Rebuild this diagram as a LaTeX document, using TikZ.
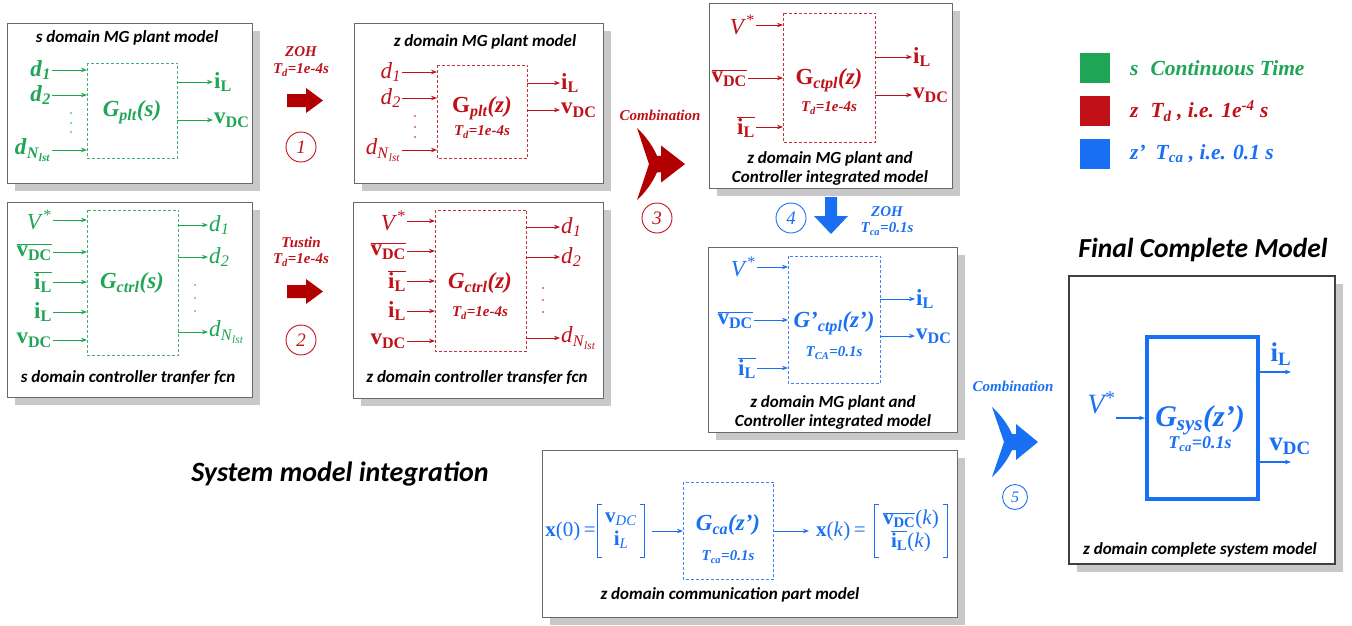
\documentclass[tikz,border=0pt]{standalone}
\usepackage{fontspec}
\setmainfont{Liberation Serif}
\newfontfamily\ttl{Carlito}
\usetikzlibrary{arrows.meta,shadows}
\definecolor{cg}{RGB}{30,165,85}
\definecolor{cr}{RGB}{192,16,24}
\definecolor{cb}{RGB}{25,112,245}
\definecolor{ca}{RGB}{178,0,0}
\definecolor{sh}{RGB}{200,200,200}
\definecolor{pb}{RGB}{105,105,105}
\newcommand{\iLb}{\textbf{i}\textsubscript{\textbf{L}}}
\newcommand{\vDCb}{\textbf{v}\textsubscript{\textbf{DC}}}
\newcommand{\vDCbar}{$\overline{\mbox{\vDCb}}$}
\newcommand{\iLbar}{$\overline{\mbox{\iLb}}$}
\newcommand{\Vst}{\textit{V}\textsuperscript{*}}
\newcommand{\dsub}[1]{\textit{d}\textsubscript{\textit{#1}}}
\newcommand{\dNl}{\textit{d}\textsubscript{\textit{N}\textsubscript{\textit{lst}}}}
\begin{document}
\begin{tikzpicture}[x=1pt,y=-1pt,
  panel/.style={draw=pb, line width=0.8pt, fill=white, drop shadow={shadow xshift=8pt,shadow yshift=-8pt,fill=sh,opacity=1}, inner sep=0pt, anchor=north west},
  dbox/.style={inner sep=0pt, anchor=north west},
  dline/.style={draw=#1!85!white, dash pattern=on 3pt off 2pt, line width=0.7pt},
  arr/.style={-{Stealth[length=6pt,width=4.5pt]}, line width=0.8pt},
  ptitle/.style={font=\ttl\bfseries\itshape\fontsize{17}{19}\selectfont, text=black, inner sep=0pt},
  bigtitle/.style={font=\ttl\bfseries\itshape\fontsize{28}{30}\selectfont, text=black, inner sep=0pt},
  lbl/.style={inner sep=1pt, font=\fontsize{23}{24}\selectfont},
  lblb/.style={inner sep=1pt, font=\bfseries\fontsize{23}{24}\selectfont},
  glbl/.style={font=\bfseries\fontsize{23}{24}\selectfont, inner sep=0pt},
  tlbl/.style={font=\bfseries\itshape\fontsize{15}{16}\selectfont, inner sep=0pt},
  num/.style={circle, draw, line width=0.9pt, minimum size=30pt, inner sep=0pt, font=\itshape\fontsize{19}{20}\selectfont},
  dotm/.style={circle, fill, inner sep=0pt, minimum size=1.8pt},
  leg/.style={anchor=west, inner sep=0pt, font=\bfseries\itshape\fontsize{21.5}{23}\selectfont},
  vec/.style={align=center, inner sep=0pt, minimum height=52pt, font=\fontsize{21}{23}\selectfont},
  brk/.style={line width=0.8pt}
]
\useasboundingbox (0,0) rectangle (1352,625);

% ---------- panels ----------
\node[panel, minimum width=245pt, minimum height=160pt] (p1) at (7,23) {};
\node[panel, minimum width=245pt, minimum height=195pt] (p4) at (7,202) {};
\node[panel, minimum width=249pt, minimum height=160pt] (p2) at (354,23) {};
\node[panel, minimum width=250pt, minimum height=196pt] (p5) at (353,202) {};
\node[panel, minimum width=243pt, minimum height=185pt] (p3) at (709,3) {};
\node[panel, minimum width=249pt, minimum height=185pt] (p6) at (708,247) {};
\node[panel, minimum width=415pt, minimum height=167pt] (p7) at (542,450) {};
\node[panel, draw=black!75, line width=2pt, minimum width=266pt, minimum height=288pt] (p8) at (1068,275) {};

% ---------- P1: s domain plant ----------
\begin{scope}[cg]
\node[ptitle] (t1) at (127,38) {s domain MG plant model};
\node[dbox, minimum width=90pt, minimum height=95pt] (g1) at (87,63) {};
\draw[dline=cg] (g1.north west) rectangle (g1.south east);
\node[glbl] (G1) at (132,112) {\itshape G\textsubscript{plt}(s)};
\node[lblb, anchor=east] (a11) at (52,70) {\dsub{1}};
\node[lblb, anchor=east] (a12) at (52,95) {\dsub{2}};
\node[lblb, anchor=east] (a13) at (52,150) {\dNl};
\foreach \s in {a11,a12,a13} \draw[arr] (\s.east) -- (\s.east -| g1.west);
\node[dotm] (d11) at (71,113) {};
\node[dotm] (d12) at (71,123) {};
\node[dotm] (d13) at (71,132) {};
\node[lblb, anchor=west] (b11) at (213,82) {\iLb};
\node[lblb, anchor=west] (b12) at (213,120) {\vDCb};
\foreach \s in {b11,b12} \draw[arr] (g1.east |- \s.west) -- (\s.west);
\end{scope}

% ---------- P4: s domain controller ----------
\begin{scope}[cg]
\node[ptitle] (t4) at (128,378) {s domain controller tranfer fcn};
\node[dbox, minimum width=91pt, minimum height=145pt] (g4) at (87,210) {};
\draw[dline=cg] (g4.north west) rectangle (g4.south east);
\node[glbl] (G4) at (132,283) {\itshape G\textsubscript{ctrl}(s)};
\node[lbl, anchor=east] (a41) at (53,220) {\Vst};
\node[lblb, anchor=east] (a42) at (53,252) {\vDCbar};
\node[lblb, anchor=east] (a43) at (53,282) {\iLbar};
\node[lblb, anchor=east] (a44) at (53,312) {\iLb};
\node[lblb, anchor=east] (a45) at (53,340) {\vDCb};
\foreach \s in {a41,a42,a43,a44,a45} \draw[arr] (\s.east) -- (\s.east -| g4.west);
\node[lbl, anchor=west] (b41) at (208,225) {\dsub{1}};
\node[lbl, anchor=west] (b42) at (208,257) {\dsub{2}};
\node[lbl, anchor=west] (b43) at (208,332) {\dNl};
\foreach \s in {b41,b42,b43} \draw[arr] (g4.east |- \s.west) -- (\s.west);
\node[dotm] (d41) at (195,285) {};
\node[dotm] (d42) at (195,298) {};
\node[dotm] (d43) at (195,311) {};
\end{scope}

% ---------- P2: z domain plant ----------
\begin{scope}[cr]
\node[ptitle] (t2) at (485,42) {z domain MG plant model};
\node[dbox, minimum width=90pt, minimum height=93pt] (g2) at (437,65) {};
\draw[dline=cr] (g2.north west) rectangle (g2.south east);
\node[glbl] (G2) at (482,108) {G\textsubscript{\itshape plt}\itshape(z)};
\node[tlbl] (T2) at (482,132) {T\textsubscript{d}=1e-4s};
\node[lbl, anchor=east] (a21) at (402,72) {\dsub{1}};
\node[lbl, anchor=east] (a22) at (402,98) {\dsub{2}};
\node[lbl, anchor=east] (a23) at (402,150) {\dNl};
\foreach \s in {a21,a22,a23} \draw[arr] (\s.east) -- (\s.east -| g2.west);
\node[dotm] (d21) at (415,116) {};
\node[dotm] (d22) at (415,127) {};
\node[dotm] (d23) at (415,137) {};
\node[lblb, anchor=west] (b21) at (560,83) {\iLb};
\node[lblb, anchor=west] (b22) at (560,110) {\vDCb};
\foreach \s in {b21,b22} \draw[arr] (g2.east |- \s.west) -- (\s.west);
\end{scope}

% ---------- P5: z domain controller ----------
\begin{scope}[cr]
\node[ptitle] (t5) at (477,378) {z domain controller transfer fcn};
\node[dbox, minimum width=91pt, minimum height=141pt] (g5) at (435,210) {};
\draw[dline=cr] (g5.north west) rectangle (g5.south east);
\node[glbl] (G5) at (480,283) {\itshape G\textsubscript{ctrl}(z)};
\node[tlbl] (T5) at (480,313) {T\textsubscript{d}=1e-4s};
\node[lbl, anchor=east] (a51) at (407,221) {\Vst};
\node[lblb, anchor=east] (a52) at (407,251) {\vDCbar};
\node[lblb, anchor=east] (a53) at (407,281) {\iLbar};
\node[lblb, anchor=east] (a54) at (407,311) {\iLb};
\node[lblb, anchor=east] (a55) at (407,341) {\vDCb};
\foreach \s in {a51,a52,a53,a54,a55} \draw[arr] (\s.east) -- (\s.east -| g5.west);
\node[lbl, anchor=west] (b51) at (560,227) {\dsub{1}};
\node[lbl, anchor=west] (b52) at (560,257) {\dsub{2}};
\node[lbl, anchor=west] (b53) at (560,338) {\dNl};
\foreach \s in {b51,b52,b53} \draw[arr] (g5.east |- \s.west) -- (\s.west);
\node[dotm] (d51) at (543,288) {};
\node[dotm] (d52) at (543,300) {};
\node[dotm] (d53) at (543,312) {};
\end{scope}

% ---------- transformation arrows 1, 2 ----------
\begin{scope}[cr]
\node[tlbl] (z1) at (301,52) {ZOH};
\node[tlbl] (z1t) at (301,70) {T\textsubscript{d}=1e-4s};
\fill[ca] (287,94) -- (306,94) -- (306,88) -- (323,100.5) -- (306,113) -- (306,107) -- (287,107) -- cycle;
\node[num] (n1) at (301,147) {1};
\node[tlbl] (z2) at (301,242) {Tustin};
\node[tlbl] (z2t) at (301,260) {T\textsubscript{d}=1e-4s};
\fill[ca] (287,285) -- (306,285) -- (306,279) -- (323,291.5) -- (306,304) -- (306,298) -- (287,298) -- cycle;
\node[num] (n2) at (301,340) {2};
\end{scope}

% ---------- combination 3 ----------
\begin{scope}[cr]
\node[tlbl] (c3) at (660,115) {Combination};
\node[num] (n3) at (657,218) {3};
\end{scope}
\begin{scope}[shift={(637,128)}, yscale=1.03]
\fill[ca] (0,0) .. controls (9,8) and (16,18) .. (20,27) -- (24,27) -- (24,17) -- (48,35) -- (24,53) -- (24,43) -- (20,43) .. controls (16,52) and (9,62) .. (0,70) -- (12,35) -- cycle;
\end{scope}

% ---------- P3: z domain integrated ----------
\begin{scope}[cr]
\node[ptitle, align=center] (t3) at (830,168) {z domain MG plant and\\Controller integrated model};
\node[dbox, minimum width=92pt, minimum height=129pt] (g3) at (783,13) {};
\draw[dline=cr] (g3.north west) rectangle (g3.south east);
\node[glbl] (G3) at (829,80) {G\textsubscript{\itshape ctpl}\itshape(z)};
\node[tlbl] (T3) at (829,108) {T\textsubscript{d}=1e-4s};
\node[lbl, anchor=east] (a31) at (756,25) {\Vst};
\node[lblb, anchor=east] (a32) at (748,78) {\vDCbar};
\node[lblb, anchor=east] (a33) at (756,127) {\iLbar};
\foreach \s in {a31,a32,a33} \draw[arr] (\s.east) -- (\s.east -| g3.west);
\node[lblb, anchor=west] (b31) at (912,57) {\iLb};
\node[lblb, anchor=west] (b32) at (912,95) {\vDCb};
\foreach \s in {b31,b32} \draw[arr] (g3.east |- \s.west) -- (\s.west);
\end{scope}

% ---------- arrow 4 ----------
\begin{scope}[cb]
\fill[cb] (825,197) -- (837,197) -- (837,216) -- (848,216) -- (831,234) -- (814,216) -- (825,216) -- cycle;
\node[num] (n4) at (791,218) {4};
\node[tlbl] (z4) at (887,212) {ZOH};
\node[tlbl] (z4t) at (887,229) {T\textsubscript{ca}=0.1s};
\end{scope}

% ---------- P6: z' integrated ----------
\begin{scope}[cb]
\node[ptitle, align=center] (t6) at (833,412) {z domain MG plant and\\Controller integrated model};
\node[dbox, minimum width=92pt, minimum height=127pt] (g6) at (788,256) {};
\draw[dline=cb] (g6.north west) rectangle (g6.south east);
\node[glbl] (G6) at (834,323) {\itshape G'\textsubscript{ctpl}(z')};
\node[tlbl] (T6) at (834,353) {T\textsubscript{CA}=0.1s};
\node[lbl, anchor=east] (a61) at (757,267) {\Vst};
\node[lblb, anchor=east] (a62) at (754,320) {\vDCbar};
\node[lblb, anchor=east] (a63) at (757,368) {\iLbar};
\foreach \s in {a61,a62,a63} \draw[arr] (\s.east) -- (\s.east -| g6.west);
\node[lblb, anchor=west] (b61) at (915,299) {\iLb};
\node[lblb, anchor=west] (b62) at (915,336) {\vDCb};
\foreach \s in {b61,b62} \draw[arr] (g6.east |- \s.west) -- (\s.west);
\end{scope}

% ---------- P7: communication ----------
\begin{scope}[cb]
\node[ptitle] (t7) at (730,595) {z domain communication part model};
\node[dbox, minimum width=90pt, minimum height=97pt] (g7) at (683,482) {};
\draw[dline=cb] (g7.north west) rectangle (g7.south east);
\node[glbl] (G7) at (728,525) {\itshape G\textsubscript{ca}(z')};
\node[tlbl] (T7) at (728,557) {T\textsubscript{ca}=0.1s};
% left vector
\node[anchor=east, inner sep=0pt, font=\fontsize{21}{23}\selectfont] (x0l) at (596,531) {\textbf{x}(0)\,=};
\node[vec, minimum width=46pt] (x0m) at (621,531) {\textbf{v}\textsubscript{\textit{DC}}\\\textbf{i}\textsubscript{\textit{L}}};
\draw[brk] ([xshift=4pt]x0m.north west) -- (x0m.north west) -- (x0m.south west) -- ([xshift=4pt]x0m.south west);
\draw[brk] ([xshift=-4pt]x0m.north east) -- (x0m.north east) -- (x0m.south east) -- ([xshift=-4pt]x0m.south east);
% right vector
\node[anchor=west, inner sep=0pt, font=\fontsize{21}{23}\selectfont] (xkl) at (816,531) {\textbf{x}(\textit{k})\,=};
\node[vec, minimum width=72pt] (xkm) at (911,531) {\vDCbar(\textit{k})\\\iLbar(\textit{k})};
\draw[brk] ([xshift=4pt]xkm.north west) -- (xkm.north west) -- (xkm.south west) -- ([xshift=4pt]xkm.south west);
\draw[brk] ([xshift=-4pt]xkm.north east) -- (xkm.north east) -- (xkm.south east) -- ([xshift=-4pt]xkm.south east);
\draw[arr] ([xshift=8pt]x0m.east) -- (x0m.east -| g7.west);
\draw[arr] (g7.east |- xkl.west) -- ([xshift=-7pt]xkl.west);
\end{scope}

% ---------- combination 5 ----------
\begin{scope}[cb]
\node[tlbl] (c5) at (1013,386) {Combination};
\node[num, minimum size=25pt, font=\itshape\fontsize{16}{18}\selectfont] (n5) at (1015,497) {5};
\end{scope}
\begin{scope}[shift={(992,407)}]
\fill[cb] (0,0) .. controls (9,8) and (16,18) .. (20,27) -- (24,27) -- (24,17) -- (46,35) -- (24,53) -- (24,43) -- (20,43) .. controls (16,52) and (9,62) .. (0,70) -- (12,35) -- cycle;
\end{scope}

% ---------- P8: final model ----------
\node[bigtitle, font=\ttl\bfseries\itshape\fontsize{27.5}{29}\selectfont] (t8a) at (1203,250) {Final Complete Model};
\begin{scope}[cb]
\node[ptitle] (t8) at (1200,550) {z domain complete system model};
\node[draw=cb, line width=4pt, minimum width=111pt, minimum height=162pt, inner sep=0pt, anchor=north west] (g8) at (1145,335) {};
\node[glbl, font=\bfseries\itshape\fontsize{30}{31}\selectfont] (G8) at (1200,420) {G\textsubscript{sys}(z')};
\node[tlbl, font=\bfseries\itshape\fontsize{18}{19}\selectfont] (T8) at (1200,444) {T\textsubscript{ca}=0.1s};
\node[inner sep=0pt, font=\itshape\fontsize{28}{29}\selectfont] (v8) at (1101,403) {V\textsuperscript{*}};
\coordinate (v8in) at (1116,418);
\draw[arr, line width=1.2pt] (v8in) -- (v8in -| g8.west);
\coordinate (o81) at (1291,372);
\coordinate (o82) at (1291,462);
\draw[arr, line width=1.2pt] (o81 -| g8.east) -- (o81);
\draw[arr, line width=1.2pt] (o82 -| g8.east) -- (o82);
\node[inner sep=0pt, font=\bfseries\fontsize{27}{28}\selectfont] (b81) at (1281,354) {\iLb};
\node[inner sep=0pt, font=\bfseries\fontsize{27}{28}\selectfont] (b82) at (1290,446) {\vDCb};
\end{scope}

% ---------- legend ----------
\fill[cg] (1080,53) rectangle (1110,83);
\fill[cr] (1080,96) rectangle (1110,126);
\fill[cb] (1080,139) rectangle (1110,169);
\node[leg, text=cg] (l1) at (1130,68) {s\hspace{12pt}Continuous Time};
\node[leg, text=cr] (l2) at (1130,111) {z\hspace{12pt}T\textsubscript{d} , i.e. 1e\textsuperscript{-4} s};
\node[leg, text=cb] (l3) at (1130,154) {z'\hspace{10pt}T\textsubscript{ca} , i.e. 0.1 s};

% ---------- section title ----------
\node[bigtitle] (sm) at (340,474) {System model integration};
\end{tikzpicture}
\end{document}
